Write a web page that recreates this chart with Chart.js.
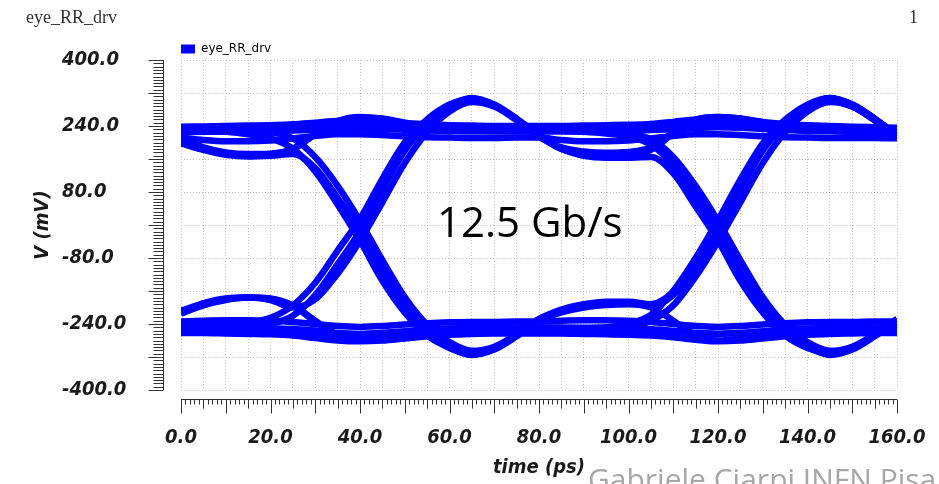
<!DOCTYPE html>
<html>
<head>
<meta charset="utf-8">
<title>eye_RR_drv</title>
<script src="https://cdn.jsdelivr.net/npm/chart.js@4.4.1/dist/chart.umd.min.js"></script>
<style>
  html, body { margin: 0; padding: 0; background: #fff; }
  #wrap { width: 939px; height: 484px; position: relative; }
</style>
</head>
<body>
<div id="wrap"><canvas id="eye" width="939" height="484"></canvas></div>
<script>
// sample times (ps) shared by every trace
const timePs = [0, 5, 10, 15, 20, 25, 30, 35, 40, 45, 50, 55, 60, 65, 70, 75, 80,
                85, 90, 95, 100, 105, 110, 115, 120, 125, 130, 135, 140, 145, 150, 155, 160];

// traces in mV
const highTop = [238, 239, 240, 241, 242, 244, 248, 252, 252, 250, 247, 244, 242, 241, 240, 240, 240,
                 240, 241, 242, 243, 245, 250, 256, 258, 256, 250, 245, 242, 240, 238, 237, 236];
const highMid = [226, 226, 227, 227, 228, 229, 231, 233, 234, 233, 231, 229, 228, 227, 227, 227, 227,
                 227, 228, 228, 229, 230, 232, 235, 237, 236, 233, 230, 228, 227, 226, 226, 225];
const highLow = [212, 206, 203, 203, 205, 210, 216, 220, 220, 218, 215, 213, 212, 211, 211, 212, 212,
                 206, 203, 203, 205, 210, 216, 220, 220, 218, 215, 213, 212, 211, 211, 211, 210];
const dipHoldFall = [210, 188, 176, 172, 173, 185, 222, 252, 262, 258, 248, 238, 232, 230, 228, 228, 228,
                     228, 226, 222, 215, 195, 145, 70, -15, -115, -200, -262, -295, -315, -302, -270, -232];
const dipFallRise = [198, 182, 170, 166, 168, 172, 138, 66, -15, -110, -192, -255, -290, -308, -297, -266, -228,
                     -210, -196, -188, -188, -195, -170, -105, -15, 85, 180, 245, 288, 308, 292, 258, 218];
const highFallLow = [228, 228, 226, 220, 210, 185, 130, 50, -38, -135, -212, -268, -298, -315, -302, -270, -232,
                     -212, -200, -194, -192, -200, -232, -268, -280, -275, -265, -256, -252, -250, -249, -249, -249];
const lowRiseFall = [-250, -250, -250, -248, -240, -220, -170, -95, -15, 85, 180, 245, 288, 308, 292, 258, 218,
                     185, 168, 163, 163, 165, 125, 45, -38, -135, -212, -268, -298, -310, -297, -266, -228];
const bumpRiseHigh = [-212, -190, -178, -176, -182, -200, -180, -118, -38, 55, 150, 225, 275, 298, 287, 254, 214,
                      188, 178, 175, 177, 188, 224, 255, 262, 258, 248, 238, 232, 230, 228, 228, 228];
const highHoldFall = [225, 226, 227, 228, 230, 233, 236, 238, 238, 236, 233, 230, 229, 228, 228, 228, 228,
                      228, 227, 225, 222, 208, 165, 95, 10, -85, -175, -242, -284, -305, -295, -265, -228];
const lowHoldRise = [-252, -252, -252, -253, -255, -258, -262, -266, -266, -262, -258, -255, -253, -252, -252, -252, -252,
                     -252, -251, -250, -246, -232, -195, -125, -40, 55, 150, 225, 275, 298, 287, 254, 214];
const lowTop = [-234, -232, -231, -231, -232, -235, -240, -245, -247, -245, -241, -238, -236, -235, -235, -234, -234,
                -232, -231, -231, -232, -235, -240, -245, -247, -245, -241, -238, -236, -235, -235, -234, -234];
const lowMid = [-248, -248, -248, -249, -250, -252, -256, -262, -264, -262, -258, -254, -251, -250, -249, -249, -249,
                -249, -249, -250, -251, -253, -257, -262, -264, -262, -258, -254, -251, -250, -249, -249, -248];
const lowBottom = [-262, -262, -263, -264, -265, -268, -274, -280, -282, -280, -275, -270, -266, -264, -263, -263, -263,
                   -263, -264, -265, -266, -268, -272, -278, -282, -280, -275, -270, -266, -264, -263, -262, -262];
const bumpLowRise = [-215, -195, -182, -176, -178, -195, -232, -268, -280, -275, -265, -256, -252, -250, -249, -249, -249,
                     -249, -250, -248, -240, -218, -160, -80, 12, 110, 198, 255, 292, 308, 292, 258, 218];
const dipHighHold = [205, 186, 174, 170, 172, 183, 220, 250, 258, 255, 246, 238, 233, 231, 230, 230, 230,
                     230, 230, 231, 232, 235, 240, 246, 250, 248, 242, 236, 232, 230, 229, 228, 228];
const bumpLowHold = [-208, -190, -180, -176, -180, -196, -234, -266, -276, -272, -262, -255, -252, -250, -249, -249, -249,
                     -250, -251, -252, -253, -255, -258, -262, -264, -262, -258, -255, -252, -250, -249, -249, -249];
const highFallRise = [232, 232, 230, 228, 225, 210, 165, 95, 10, -85, -175, -242, -284, -305, -295, -265, -228,
                      -205, -192, -186, -186, -192, -162, -95, -5, 92, 185, 248, 288, 302, 287, 254, 214];
const lowRiseHigh = [-244, -244, -243, -238, -225, -195, -140, -62, 15, 112, 200, 256, 292, 306, 290, 256, 216,
                     184, 172, 168, 170, 182, 222, 255, 262, 258, 248, 238, 232, 230, 228, 228, 228];

const eyeTraces = [highTop, highMid, highLow, dipHoldFall, dipFallRise, highFallLow, lowRiseFall, bumpRiseHigh,
                   highHoldFall, lowHoldRise, lowTop, lowMid, lowBottom, bumpLowRise, dipHighHold, bumpLowHold,
                   highFallRise, lowRiseHigh];

const xLabelTicks = [0, 20, 40, 60, 80, 100, 120, 140, 160];
const yLabelTicks = [-400, -240, -80, 80, 240, 400];
const tRange = [0, 160];
const vRange = [-400, 400];

const seriesName = 'eye_RR_drv';
const pageNumber = '1';
const rateLabel = '12.5 Gb/s';
const footer = 'Gabriele Ciarpi INFN Pisa';
const traceColor = '#0000ff';
const inkColor = '#1a1a1a';
const axisFont = { family: "'DejaVu Sans Condensed', 'DejaVu Sans', sans-serif", size: 20, style: 'italic', weight: 'bold' };

// ruler ticks that sit off the plot, like the scope's axes
const rulerPlugin = {
  id: 'rulers',
  afterDraw(chart) {
    const { ctx, chartArea } = chart;
    const x = chart.scales.x;
    const y = chart.scales.y;
    ctx.save();
    ctx.strokeStyle = '#333';
    ctx.lineWidth = 1;
    ctx.beginPath();
    const axisX = chartArea.left - 17.5;
    ctx.moveTo(axisX, y.getPixelForValue(vRange[1]));
    ctx.lineTo(axisX, y.getPixelForValue(vRange[0]));
    for (let v = vRange[0]; v <= vRange[1]; v += 8) {
      const py = Math.round(y.getPixelForValue(v)) + 0.5;
      const len = v % 80 === 0 ? 15 : 10;
      ctx.moveTo(axisX - len, py);
      ctx.lineTo(axisX, py);
    }
    const axisY = chartArea.bottom + 9.5;
    ctx.moveTo(x.getPixelForValue(tRange[0]), axisY);
    ctx.lineTo(x.getPixelForValue(tRange[1]), axisY);
    for (let t = tRange[0]; t <= tRange[1]; t += 1) {
      const px = Math.round(x.getPixelForValue(t)) + 0.5;
      const len = t % 10 === 0 ? 14 : (t % 5 === 0 ? 9 : 5);
      ctx.moveTo(px, axisY);
      ctx.lineTo(px, axisY + len);
    }
    ctx.stroke();
    ctx.restore();
  }
};

const notesPlugin = {
  id: 'notes',
  afterDraw(chart) {
    const { ctx, chartArea } = chart;
    const x = chart.scales.x;
    const y = chart.scales.y;
    ctx.save();
    ctx.fillStyle = '#333';
    ctx.font = "18px 'Liberation Serif', serif";
    ctx.textBaseline = 'alphabetic';
    ctx.textAlign = 'left';
    ctx.fillText(seriesName, 26, 23);
    ctx.textAlign = 'right';
    ctx.fillText(pageNumber, 918, 23);

    ctx.fillStyle = '#000';
    ctx.textAlign = 'left';
    ctx.font = "42px 'Open Sans', sans-serif";
    ctx.fillText(rateLabel, x.getPixelForValue(57.2), y.getPixelForValue(-29));

    ctx.save();
    ctx.translate(43, (chartArea.top + chartArea.bottom) / 2);
    ctx.rotate(-Math.PI / 2);
    ctx.textAlign = 'center';
    ctx.textBaseline = 'middle';
    ctx.font = "italic bold 20px 'DejaVu Sans Condensed', 'DejaVu Sans', sans-serif";
    ctx.fillStyle = inkColor;
    ctx.fillText('V (mV)', 0, 0);
    ctx.restore();

    ctx.fillStyle = '#a6a6a6';
    ctx.font = "30px 'Open Sans', sans-serif";
    ctx.textAlign = 'left';
    ctx.fillText(footer, 588, 490);
    ctx.restore();
  }
};

const datasets = eyeTraces.map((trace, i) => ({
  label: i === 0 ? seriesName : '',
  data: timePs.map((t, k) => ({ x: t, y: trace[k] })),
  borderColor: traceColor,
  backgroundColor: traceColor,
  borderWidth: 6.5,
  pointRadius: 0,
  cubicInterpolationMode: 'monotone',
  fill: false
}));

new Chart(document.getElementById('eye'), {
  type: 'line',
  data: { datasets },
  options: {
    responsive: false,
    animation: false,
    events: [],
    layout: { padding: { left: 62, right: 42, top: 43, bottom: 0 } },
    scales: {
      x: {
        type: 'linear',
        min: tRange[0],
        max: tRange[1],
        afterFit: (scale) => { scale.height = 94; },
        // invisible tick marks push the labels down without widening the side padding
        grid: { color: '#c4c4c4', lineWidth: 1, drawTicks: true, tickLength: 36, tickColor: 'rgba(0,0,0,0)' },
        border: { display: false, dash: [1, 2] },
        ticks: {
          stepSize: 5,
          autoSkip: false,
          maxRotation: 0,
          padding: 0,
          color: inkColor,
          font: axisFont,
          callback: (v) => xLabelTicks.includes(v) ? v.toFixed(1) : ''
        },
        title: {
          display: true,
          text: 'time (ps)',
          color: inkColor,
          font: axisFont,
          padding: { top: 0, bottom: 4 }
        }
      },
      y: {
        type: 'linear',
        min: vRange[0],
        max: vRange[1],
        afterFit: (scale) => { scale.width = 119; },
        grid: { color: '#c4c4c4', lineWidth: 1, drawTicks: true, tickLength: 54, tickColor: 'rgba(0,0,0,0)' },
        border: { display: false, dash: [1, 2] },
        ticks: {
          stepSize: 80,
          padding: 0,
          crossAlign: 'far',
          color: inkColor,
          font: axisFont,
          callback: (v) => yLabelTicks.includes(v) ? v.toFixed(1) : ''
        }
      }
    },
    plugins: {
      legend: {
        position: 'top',
        align: 'start',
        fullSize: false,
        maxHeight: 17,
        labels: {
          boxWidth: 14,
          boxHeight: 9,
          padding: 0,
          color: '#222',
          font: { family: "'DejaVu Sans', sans-serif", size: 12 },
          generateLabels: () => [{
            text: seriesName, fillStyle: traceColor, strokeStyle: traceColor,
            lineWidth: 0, hidden: false, datasetIndex: 0
          }]
        }
      },
      tooltip: { enabled: false }
    }
  },
  plugins: [rulerPlugin, notesPlugin]
});
</script>
</body>
</html>
